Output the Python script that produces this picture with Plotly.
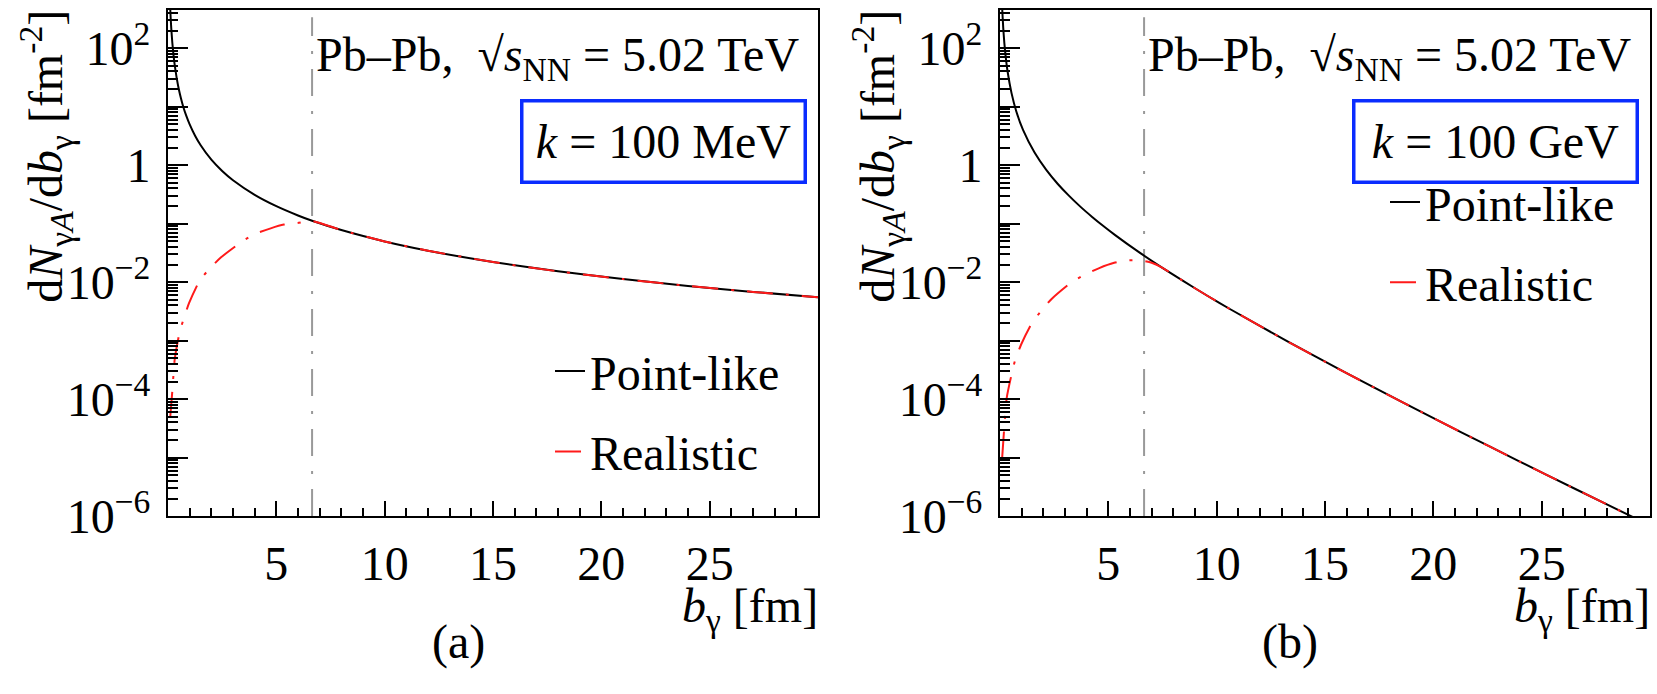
import plotly.graph_objects as go

# ---------------- data ----------------
R_PB = 6.65  # fm, position of the dashed reference line

# (a) k = 100 MeV
b_point_a = [0.1, 0.12, 0.15, 0.2, 0.25, 0.3, 0.4, 0.5, 0.6, 0.7, 0.85, 1, 1.25, 1.5, 2, 2.5,
             3, 4, 5, 6, 6.65, 8, 10, 12, 15, 18, 21, 24, 27, 30]
n_point_a = [497, 345, 221, 124, 79.5, 55.2, 31.1, 19.9, 13.8, 10.1, 6.88, 4.97, 3.18, 2.21, 1.24, 0.795,
             0.552, 0.311, 0.199, 0.138, 0.112, 0.0777, 0.0497, 0.0345, 0.0221, 0.0153, 0.0113, 0.00863, 0.00682, 0.00552]
b_real_a = [0.1, 0.21, 0.31, 0.54, 0.73, 0.97, 1.46, 1.92, 2.45, 3.44, 4.02, 4.74, 5.35, 5.96, 6.65,
            8, 10, 12, 15, 18, 21, 24, 27, 30]
n_real_a = [4.8e-5, 1.55e-4, 4.8e-4, 1.41e-3, 2.4e-3, 4.37e-3, 0.0106, 0.0170, 0.0266, 0.0501, 0.0668, 0.0832,
            0.0964, 0.102, 0.111, 0.0777, 0.0497, 0.0345, 0.0221, 0.0153, 0.0113, 0.00863, 0.00682, 0.00552]

# (b) k = 100 GeV
b_point_b = [0.1, 0.106, 0.15, 0.2, 0.266, 0.35, 0.532, 0.75, 1.063, 1.595, 2.127, 2.658, 3.19, 3.72,
             4.253, 4.785, 5.316, 6.38, 7.443, 8.506, 9.569, 10.63, 13.29, 15.95, 18.61, 21.27, 23.92,
             26.58, 29.24, 30]
n_point_b = [496, 439, 220.3, 123.6, 69.7, 39.98, 17.07, 8.38, 4.01, 1.642, 0.8386, 0.4821, 0.2985, 0.1938,
             0.1306, 0.0903, 0.0637, 0.0332, 0.01809, 0.01018, 0.00586, 0.00344, 9.60e-4, 2.836e-4, 8.70e-5,
             2.738e-5, 8.81e-6, 2.877e-6, 9.51e-7, 7.0e-7]
b_real_b = [0.1, 0.2, 0.31, 0.54, 0.69, 0.97, 1.45, 1.88, 2.37, 3.28, 3.93, 4.58, 5.27, 5.8, 6.45, 7.0,
            7.443, 8.506, 9.569, 10.63, 13.29, 15.95, 18.61, 21.27, 23.92, 26.58, 29.24, 30]
n_real_b = [1.0e-5, 3.4e-5, 1.05e-4, 2.7e-4, 4.5e-4, 8.5e-4, 1.93e-3, 3.16e-3, 5.1e-3, 9.8e-3, 0.0135,
            0.0174, 0.0214, 0.0234, 0.0236, 0.0215, 0.0181, 0.01018, 0.00586, 0.00344, 9.60e-4, 2.836e-4,
            8.70e-5, 2.738e-5, 8.81e-6, 2.877e-6, 9.51e-7, 7.0e-7]

x_tickvals = [5, 10, 15, 20, 25]
y_tickvals = [1e-6, 1e-5, 1e-4, 1e-3, 1e-2, 1e-1, 1, 10, 100]
y_ticktext = ["10<sup>−6</sup>", "", "10<sup>−4</sup>", "", "10<sup>−2</sup>", "", "1", "", "10<sup>2</sup>"]
k_labels = ["<i>k</i> = 100 MeV", "<i>k</i> = 100 GeV"]
panel_labels = ["(a)", "(b)"]
series_names = ["Point-like", "Realistic"]

# ---------------- styling ----------------
W, H = 1657, 694
FONT = "Liberation Serif"
FS = 48


def px(x):
    return x / W


def py(y):
    return 1 - y / H


RED_DASH = "26px,13px,3px,13px"
GREY_DASH = "27px,15px,3px,15px"

fig = go.Figure()

panels = [
    dict(xa="x", ya="y", leg="legend", bp=b_point_a, np_=n_point_a, br=b_real_a, nr=n_real_a),
    dict(xa="x2", ya="y2", leg="legend2", bp=b_point_b, np_=n_point_b, br=b_real_b, nr=n_real_b),
]
for p in panels:
    fig.add_trace(go.Scatter(x=p["bp"], y=p["np_"], mode="lines", name=series_names[0],
                             line=dict(color="black", width=2, shape="spline", smoothing=0.6),
                             xaxis=p["xa"], yaxis=p["ya"], legend=p["leg"], legendgroup="g1"))
    fig.add_trace(go.Scatter(x=p["br"], y=p["nr"], mode="lines", name=series_names[1],
                             line=dict(color="#ff1a1a", width=2, dash=RED_DASH, shape="spline", smoothing=0.6),
                             xaxis=p["xa"], yaxis=p["ya"], legend=p["leg"], legendgroup="g2"))

ydom = [py(537), py(10)]
xdoms = [[px(168), px(818)], [px(1000), px(1650)]]

xaxis_common = dict(range=[0, 30], showgrid=False, zeroline=False, showline=True, linecolor="black",
                    linewidth=2, mirror=True, ticks="inside", ticklen=15, tickwidth=2, tickcolor="black",
                    tickmode="array", tickvals=x_tickvals,
                    minor=dict(ticks="inside", ticklen=8, tickwidth=1.5, tickcolor="black", dtick=1),
                    tickfont=dict(family=FONT, size=FS, color="black"), ticklabelstandoff=4)
yaxis_common = dict(type="log", range=[-6, 2.66], showgrid=False, zeroline=False, showline=True,
                    linecolor="black", linewidth=2, mirror=True, ticks="inside", ticklen=20, tickwidth=2,
                    tickcolor="black", tickmode="array", tickvals=y_tickvals, ticktext=y_ticktext,
                    minor=dict(ticks="inside", ticklen=10, tickwidth=1.5, tickcolor="black", dtick="D1"),
                    tickfont=dict(family=FONT, size=FS, color="black"), ticklabelstandoff=6)

fig.update_layout(
    xaxis=dict(xaxis_common, domain=xdoms[0], anchor="y"),
    yaxis=dict(yaxis_common, domain=ydom, anchor="x"),
    xaxis2=dict(xaxis_common, domain=xdoms[1], anchor="y2"),
    yaxis2=dict(yaxis_common, domain=ydom, anchor="x2"),
)

legend_common = dict(font=dict(family=FONT, size=FS, color="black"), bgcolor="rgba(0,0,0,0)",
                     itemwidth=30, tracegroupgap=15, xanchor="left", yanchor="middle",
                     traceorder="grouped")
fig.update_layout(
    legend=dict(legend_common, x=px(550), y=py(428)),
    legend2=dict(legend_common, x=px(1385), y=py(252)),
)

# vertical reference lines at the nuclear radius
for xa, ya in [("x", "y"), ("x2", "y2")]:
    fig.add_shape(type="line", xref=xa, yref=f"{ya} domain", x0=R_PB, x1=R_PB, y0=0, y1=0.985,
                  line=dict(color="#999999", width=2, dash=GREY_DASH), layer="below")

ann = []
title_y = "d<i>N</i><sub>γ<i>A</i></sub>/d<i>b</i><sub>γ</sub> [fm<sup>-2</sup>]"
title_x = "<i>b</i><sub>γ</sub> [fm]"
energy = "Pb–Pb,\u00a0 √<i>s</i><sub>NN</sub> = 5.02 TeV"
base = dict(xref="paper", yref="paper", showarrow=False, font=dict(family=FONT, size=FS, color="black"))
for i, (x0, x1) in enumerate([(168, 818), (1000, 1650)]):
    ann.append(dict(base, text=title_y, x=px(x0 - 122), y=py(163), textangle=-90, xanchor="center",
                    yanchor="middle"))
    ann.append(dict(base, text=title_x, x=px(x1 + 2), y=py(634), xanchor="right", yanchor="middle"))
    ann.append(dict(base, text=panel_labels[i], x=px(x0 + 290), y=py(668), xanchor="center",
                    yanchor="middle"))
    ann.append(dict(base, text=energy, x=px(x0 + 146), y=py(60), xanchor="left", yanchor="middle"))
    ann.append(dict(base, text=k_labels[i], x=px(x1 - 155), y=py(147), xanchor="center", yanchor="middle",
                    width=272, height=70, borderpad=4, borderwidth=3.5, bordercolor="#0a2cff"))
fig.update_layout(annotations=ann)

fig.update_layout(width=W, height=H, margin=dict(l=0, r=0, t=0, b=0), paper_bgcolor="white",
                  plot_bgcolor="white", showlegend=True)

fig.write_html("out.html", post_script="document.body.style.margin='0';",
               config={"displayModeBar": False})
